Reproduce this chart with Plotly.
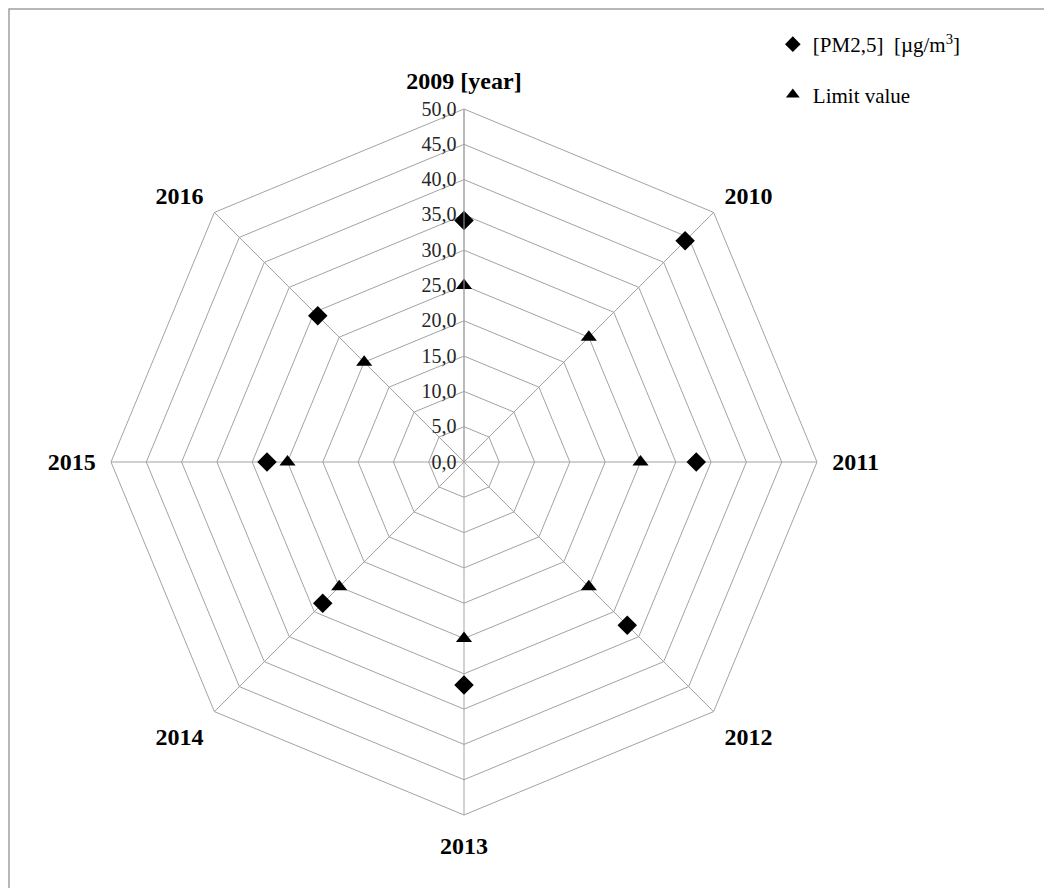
import plotly.graph_objects as go

years = ["2009", "2010", "2011", "2012", "2013", "2014", "2015", "2016"]
year_labels = ["2009 [year]", "2010", "2011", "2012", "2013", "2014", "2015", "2016"]
pm25 = [34.2, 44.3, 32.9, 32.7, 31.6, 28.3, 27.9, 29.3]
limit_value = [25, 25, 25, 25, 25, 25, 25, 20]
radial_ticks = [0, 5, 10, 15, 20, 25, 30, 35, 40, 45, 50]
radial_ticktext = ["0,0", "5,0", "10,0", "15,0", "20,0", "25,0", "30,0", "35,0", "40,0", "45,0", "50,0"]

W, H = 1052, 888
OFF = 8  # page body margin
cx, cy, R = 464 - OFF, 462 - OFF, 353

fig = go.Figure()
fig.add_trace(go.Scatterpolar(
    r=pm25, theta=years, mode="markers", name="[PM2,5]  [µg/m<sup>3</sup>]",
    marker=dict(symbol="diamond", size=15, color="black"),
    legendgroup="a",
))
fig.add_trace(go.Scatterpolar(
    r=limit_value, theta=years, mode="markers", name="Limit value",
    marker=dict(symbol="triangle-up", size=14, color="black"),
    legendgroup="b",
))

grid = "#a3a3a3"
fig.update_layout(
    width=W, height=H,
    margin=dict(l=0, r=0, t=0, b=0),
    paper_bgcolor="white",
    font=dict(family="Liberation Serif", color="black", size=20),
    showlegend=True,
    legend=dict(x=0.727, y=0.982, xanchor="left", yanchor="top",
                font=dict(family="Liberation Serif", size=21, color="black"),
                tracegroupgap=20, itemsizing="constant", bgcolor="rgba(0,0,0,0)"),
    polar=dict(
        domain=dict(x=[(cx - R) / W, (cx + R) / W],
                    y=[(H - cy - R) / H, (H - cy + R) / H]),
        gridshape="linear",
        bgcolor="white",
        angularaxis=dict(
            type="category", categoryarray=years, categoryorder="array",
            rotation=90, direction="clockwise",
            tickmode="array", tickvals=years, ticktext=year_labels,
            tickfont=dict(family="Liberation Serif", size=24, color="black", weight="bold"),
            showline=True, linecolor=grid, linewidth=1,
            showgrid=True, gridcolor=grid, gridwidth=1,
            ticks="outside", ticklen=10, tickcolor="rgba(0,0,0,0)",
        ),
        radialaxis=dict(
            range=[0, 50], angle=90, side="counterclockwise",
            tickmode="array", tickvals=radial_ticks, ticktext=radial_ticktext,
            tickangle=90,
            tickfont=dict(family="Liberation Serif", size=20, color="#262626"),
            showline=True, linecolor=grid, linewidth=1,
            showgrid=True, gridcolor=grid, gridwidth=1,
            ticks="",
        ),
    ),
    shapes=[dict(type="rect", xref="paper", yref="paper",
                 x0=1 / W, x1=1.02, y0=-0.02, y1=1 - 1 / H,
                 line=dict(color="#a0a0a0", width=1.5), fillcolor="rgba(0,0,0,0)")],
)

fig.write_html("out.html")
